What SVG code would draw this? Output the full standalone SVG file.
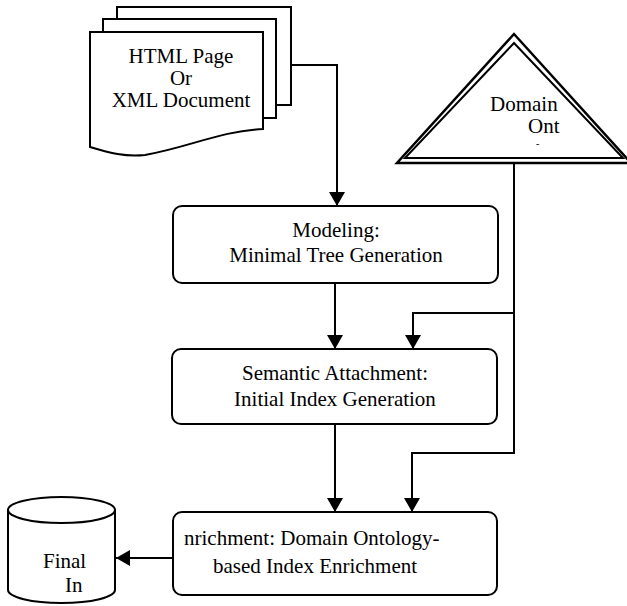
<svg xmlns="http://www.w3.org/2000/svg" width="627" height="606" viewBox="0 0 627 606" font-family="'Liberation Serif', 'Times New Roman', 'DejaVu Serif', serif">
  <style>
    .shape { fill: #fff; stroke: #000; stroke-width: 2; }
    .label { font-family: 'Liberation Serif', 'Times New Roman', 'DejaVu Serif', serif; font-size: 21px; fill: #000; }
    .wire { fill: none; stroke: #000; stroke-width: 2; }
  </style>
  <defs>
    <marker id="arrow" viewBox="0 0 14 16" refX="14" refY="8" markerWidth="14" markerHeight="16" markerUnits="userSpaceOnUse" orient="auto">
      <path d="M0,0 L14,8 L0,16 Z" fill="#000"/>
    </marker>
  </defs>
  <rect width="627" height="606" fill="#fff"/>

  <!-- input documents: three stacked pages -->
  <g id="documents">
    <rect class="shape" x="117" y="7" width="174" height="98"/>
    <rect class="shape" x="103" y="19" width="173" height="99"/>
    <path class="shape" d="M90,32 H263 V129 C220,131 190,147 145,155 C125,157 110,153 90,147 Z"/>
    <text class="label" x="181" y="63" text-anchor="middle">HTML Page</text>
    <text class="label" x="181" y="85" text-anchor="middle">Or</text>
    <text class="label" x="181" y="107" text-anchor="middle">XML Document</text>
  </g>

  <!-- domain ontology: double-outlined triangle -->
  <g id="ontology">
    <polygon points="514,34 397,163 631,163" fill="#fff" stroke="#000" stroke-width="2.5"/>
    <polygon points="514,43 405,158 623,158" fill="none" stroke="#000" stroke-width="2"/>
    <text class="label" x="490" y="111">Domain</text>
    <text class="label" x="528" y="133">Ont</text>
    <text class="label" x="536" y="147" style="font-size:10px">-</text>
  </g>

  <g id="modeling">
    <rect class="shape" x="173" y="206" width="325" height="77" rx="9"/>
    <text class="label" x="336" y="237" text-anchor="middle">Modeling:</text>
    <text class="label" x="336" y="262" text-anchor="middle">Minimal Tree Generation</text>
  </g>

  <g id="attachment">
    <rect class="shape" x="172" y="349" width="325" height="75" rx="9"/>
    <text class="label" x="335" y="380" text-anchor="middle">Semantic Attachment:</text>
    <text class="label" x="335" y="406" text-anchor="middle">Initial Index Generation</text>
  </g>

  <g id="enrichment">
    <rect class="shape" x="173" y="512" width="324" height="83" rx="9"/>
    <text class="label" x="184" y="545">nrichment: Domain Ontology-</text>
    <text class="label" x="213" y="573">based Index Enrichment</text>
  </g>

  <!-- final index store: cylinder -->
  <g id="final-index">
    <path class="shape" d="M8,510 V590 A53.5,13 0 0 0 115,590 V510"/>
    <ellipse class="shape" cx="61.5" cy="510" rx="53.5" ry="13"/>
    <text class="label" x="43" y="568">Final</text>
    <text class="label" x="65" y="592">In</text>
  </g>

  <g id="connectors">
    <path class="wire" d="M291,65 H337 V206" marker-end="url(#arrow)"/>
    <path class="wire" d="M335,283 V349" marker-end="url(#arrow)"/>
    <path class="wire" d="M335,424 V512" marker-end="url(#arrow)"/>
    <path class="wire" d="M514,163 V313 H413 V349" marker-end="url(#arrow)"/>
    <path class="wire" d="M514,313 V453 H412 V512" marker-end="url(#arrow)"/>
    <path class="wire" d="M173,558 H116" marker-end="url(#arrow)"/>
  </g>
</svg>
